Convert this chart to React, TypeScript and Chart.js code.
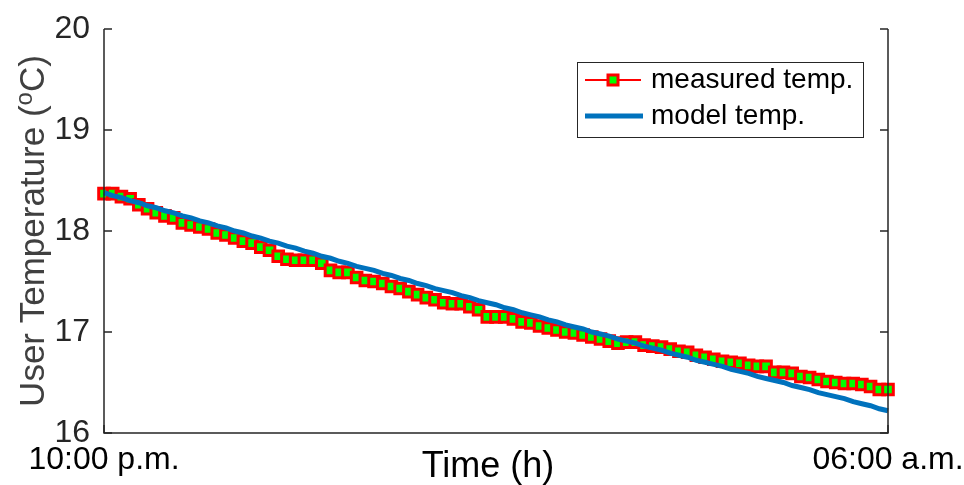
import React, { useEffect, useRef } from 'react';
import { Chart, registerables } from 'chart.js';

Chart.register(...registerables);

// ---- data ----
const timeLabels = ['10:00 p.m.', '06:00 a.m.'];
const yTickValues = [16, 17, 18, 19, 20];
const seriesNames = ['measured temp.', 'model temp.'];
const xTitle = 'Time (h)';
const yTitleParts = ['User Temperature (', 'o', 'C)'];

const measuredTemp = [
  18.37, 18.37, 18.34, 18.32, 18.26, 18.22, 18.18, 18.15, 18.13, 18.08,
  18.06, 18.04, 18.02, 17.98, 17.96, 17.93, 17.90, 17.88, 17.84, 17.81,
  17.75, 17.72, 17.71, 17.71, 17.71, 17.68, 17.61, 17.59, 17.59, 17.54,
  17.51, 17.50, 17.48, 17.45, 17.43, 17.40, 17.37, 17.34, 17.32, 17.29,
  17.28, 17.28, 17.25, 17.22, 17.15, 17.15, 17.15, 17.13, 17.10, 17.09,
  17.06, 17.04, 17.02, 17.00, 16.99, 16.97, 16.95, 16.93, 16.91, 16.89,
  16.90, 16.90, 16.87, 16.86, 16.85, 16.83, 16.81, 16.80, 16.77, 16.75,
  16.73, 16.71, 16.70, 16.69, 16.67, 16.66, 16.66, 16.60, 16.60, 16.59,
  16.56, 16.55, 16.53, 16.51, 16.50, 16.49, 16.49, 16.48, 16.46, 16.43,
  16.43,
];

const modelTemp = [
  18.38, 18.35, 18.33, 18.30, 18.28, 18.25, 18.23, 18.20, 18.18, 18.15,
  18.13, 18.10, 18.08, 18.05, 18.03, 18.00, 17.98, 17.95, 17.93, 17.90,
  17.88, 17.85, 17.83, 17.80, 17.78, 17.75, 17.73, 17.70, 17.68, 17.65,
  17.63, 17.61, 17.58, 17.56, 17.53, 17.51, 17.48, 17.46, 17.43, 17.41,
  17.39, 17.36, 17.34, 17.31, 17.29, 17.27, 17.24, 17.22, 17.19, 17.17,
  17.15, 17.12, 17.10, 17.07, 17.05, 17.03, 17.00, 16.98, 16.96, 16.93,
  16.91, 16.89, 16.86, 16.84, 16.82, 16.79, 16.77, 16.75, 16.72, 16.70,
  16.68, 16.66, 16.63, 16.61, 16.59, 16.56, 16.54, 16.52, 16.50, 16.47,
  16.45, 16.43, 16.40, 16.38, 16.36, 16.34, 16.31, 16.29, 16.27, 16.24,
  16.22,
];

const FONT = '"Liberation Sans", Arial, Helvetica, sans-serif';
const AXIS_COLOR = '#262626';
const RED = '#ff0000';
const GREEN = '#00ff00';
const BLUE = '#0072bd';

export default function App() {
  const canvasRef = useRef<HTMLCanvasElement>(null);

  useEffect(() => {
    const canvas = canvasRef.current;
    if (!canvas) return;
    const lastIndex = measuredTemp.length - 1;

    const framePlugin = {
      id: 'matlabFrame',
      afterDraw(chart: any) {
        const { ctx, chartArea: a, scales } = chart;
        const ys = scales.y;
        const xs = scales.x;
        ctx.save();
        // axes box (left, bottom, right)
        ctx.strokeStyle = AXIS_COLOR;
        ctx.lineWidth = 1.5;
        ctx.beginPath();
        ctx.moveTo(a.left, a.top);
        ctx.lineTo(a.left, a.bottom);
        ctx.lineTo(a.right, a.bottom);
        ctx.lineTo(a.right, a.top);
        ctx.stroke();
        // inward ticks
        ctx.beginPath();
        yTickValues.forEach((v) => {
          const y = ys.getPixelForValue(v);
          ctx.moveTo(a.left, y);
          ctx.lineTo(a.left + 8, y);
          ctx.moveTo(a.right, y);
          ctx.lineTo(a.right - 8, y);
        });
        [0, lastIndex].forEach((v) => {
          const x = xs.getPixelForValue(v);
          ctx.moveTo(x, a.bottom);
          ctx.lineTo(x, a.bottom - 8);
        });
        ctx.stroke();

        // x-axis title
        ctx.fillStyle = '#000000';
        ctx.font = `36px ${FONT}`;
        ctx.textAlign = 'center';
        ctx.textBaseline = 'middle';
        ctx.fillText(xTitle, 488, 467);

        // y-axis title with superscript o
        const bigFont = `35px ${FONT}`;
        const smallFont = `24px ${FONT}`;
        ctx.font = bigFont;
        const w1 = ctx.measureText(yTitleParts[0]).width;
        const w3 = ctx.measureText(yTitleParts[2]).width;
        ctx.font = smallFont;
        const w2 = ctx.measureText(yTitleParts[1]).width;
        const total = w1 + w2 + w3;
        ctx.translate(32, (a.top + a.bottom) / 2);
        ctx.rotate(-Math.PI / 2);
        ctx.fillStyle = '#404040';
        ctx.textBaseline = 'alphabetic';
        ctx.textAlign = 'left';
        let x0 = -total / 2;
        const base = 12;
        ctx.font = bigFont;
        ctx.fillText(yTitleParts[0], x0, base);
        x0 += w1;
        ctx.font = smallFont;
        ctx.fillText(yTitleParts[1], x0, base - 12);
        x0 += w2;
        ctx.font = bigFont;
        ctx.fillText(yTitleParts[2], x0, base);
        ctx.restore();

        // legend
        ctx.save();
        const lx = 577.5, ly = 62.5, lw = 286, lh = 75;
        ctx.fillStyle = '#ffffff';
        ctx.fillRect(lx, ly, lw, lh);
        ctx.strokeStyle = AXIS_COLOR;
        ctx.lineWidth = 1;
        ctx.strokeRect(lx, ly, lw, lh);
        const r1 = 80, r2 = 116;
        // measured entry
        ctx.strokeStyle = RED;
        ctx.lineWidth = 2;
        ctx.beginPath();
        ctx.moveTo(585, r1);
        ctx.lineTo(641, r1);
        ctx.stroke();
        ctx.fillStyle = GREEN;
        ctx.lineWidth = 3;
        ctx.beginPath();
        ctx.rect(613 - 5, r1 - 5, 10, 10);
        ctx.fill();
        ctx.stroke();
        // model entry
        ctx.strokeStyle = BLUE;
        ctx.lineWidth = 5;
        ctx.beginPath();
        ctx.moveTo(585, r2);
        ctx.lineTo(643, r2);
        ctx.stroke();
        ctx.fillStyle = '#000000';
        ctx.font = `28px ${FONT}`;
        ctx.textAlign = 'left';
        ctx.textBaseline = 'middle';
        ctx.fillText(seriesNames[0], 651, r1);
        ctx.fillText(seriesNames[1], 651, r2);
        ctx.restore();
      },
    };

    const chart = new Chart(canvas, {
      type: 'line',
      data: {
        datasets: [
          {
            label: seriesNames[0],
            data: measuredTemp.map((v, i) => ({ x: i, y: v })),
            borderColor: RED,
            borderWidth: 2,
            pointStyle: 'rect',
            pointRadius: 7.5,
            pointBackgroundColor: GREEN,
            pointBorderColor: RED,
            pointBorderWidth: 3,
            clip: false,
            order: 2,
          } as any,
          {
            label: seriesNames[1],
            data: modelTemp.map((v, i) => ({ x: i, y: v })),
            borderColor: BLUE,
            borderWidth: 5,
            pointRadius: 0,
            clip: false,
            order: 1,
          } as any,
        ],
      },
      options: {
        responsive: false,
        animation: false,
        layout: { padding: { left: 0, top: 29, right: 76, bottom: 0 } },
        plugins: {
          legend: { display: false },
          tooltip: { enabled: false },
        },
        scales: {
          x: {
            type: 'linear',
            min: 0,
            max: lastIndex,
            grid: { display: false, drawTicks: false },
            border: { display: false },
            afterBuildTicks: (s: any) => {
              s.ticks = [{ value: 0 }, { value: lastIndex }];
            },
            afterFit: (s: any) => {
              s.height = 52;
              s.paddingLeft = 0;
              s.paddingRight = 0;
            },
            ticks: {
              autoSkip: false,
              maxRotation: 0,
              minRotation: 0,
              padding: 8,
              color: '#000000',
              font: { family: FONT, size: 32 },
              callback: (v: any) => (v === 0 ? timeLabels[0] : timeLabels[1]),
            },
            title: { display: false },
          },
          y: {
            min: 16,
            max: 20,
            grid: { display: false, drawTicks: false },
            border: { display: false },
            afterFit: (s: any) => {
              s.width = 104;
              s.paddingTop = 0;
              s.paddingBottom = 0;
            },
            ticks: {
              stepSize: 1,
              padding: 14,
              color: AXIS_COLOR,
              font: { family: FONT, size: 32 },
            },
          },
        },
      },
      plugins: [framePlugin],
    });

    return () => chart.destroy();
  }, []);

  return (
    <div style={{ position: 'absolute', left: 0, top: 0, width: 964, height: 485, background: '#fff' }}>
      <canvas ref={canvasRef} width={964} height={485} style={{ display: 'block' }} />
    </div>
  );
}
